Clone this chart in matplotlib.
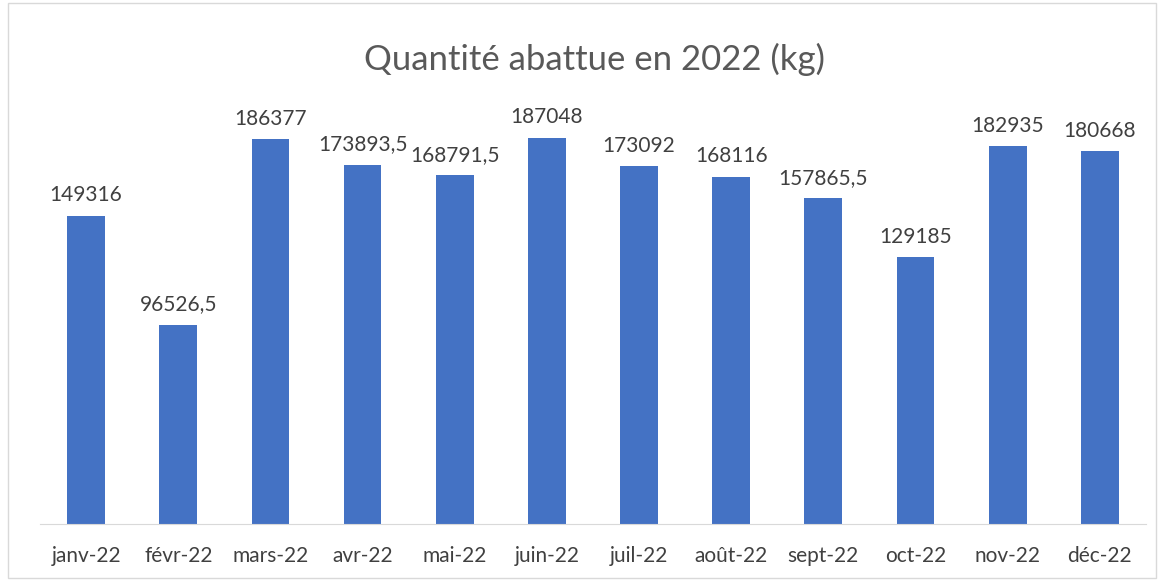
import matplotlib.pyplot as plt
import numpy as np
from matplotlib.patches import Rectangle

plt.rcParams['font.family'] = ['Lato', 'DejaVu Sans']

mois = ['janv-22', 'févr-22', 'mars-22', 'avr-22', 'mai-22', 'juin-22',
        'juil-22', 'août-22', 'sept-22', 'oct-22', 'nov-22', 'déc-22']
quantite = [149316, 96526.5, 186377, 173893.5, 168791.5, 187048,
            173092, 168116, 157865.5, 129185, 182935, 180668]
etiquettes = ['149316', '96526,5', '186377', '173893,5', '168791,5', '187048',
              '173092', '168116', '157865,5', '129185', '182935', '180668']

fig = plt.figure(figsize=(11.64, 5.81), dpi=100)
# cadre du graphique
fig.patches.append(Rectangle((0.007, 0.006), 0.986, 0.988, transform=fig.transFigure,
                             fill=False, edgecolor='#D9D9D9', linewidth=1))
ax = fig.add_axes([0.0344, 0.0981, 0.95, 0.711])

x = np.arange(len(mois))
ax.bar(x, quantite, width=0.41, color='#4472C4')
for xi, v, t in zip(x, quantite, etiquettes):
    ax.text(xi, v + 5000, t, ha='center', va='bottom', fontsize=15, color='#404040')

ax.set_xlim(-0.5, len(mois) - 0.5)
ax.set_ylim(0, 200000)
ax.set_xticks(x)
ax.set_xticklabels(mois, fontsize=15, color='#404040')
ax.tick_params(axis='x', length=0, pad=16)
ax.set_yticks([])
for s in ['top', 'right', 'left']:
    ax.spines[s].set_visible(False)
ax.spines['bottom'].set_color('#D9D9D9')

fig.text(0.511, 0.898, 'Quantité abattue en 2022 (kg)', ha='center', va='center',
         fontsize=25, color='#595959')

fig.savefig('out.png', dpi=100)
